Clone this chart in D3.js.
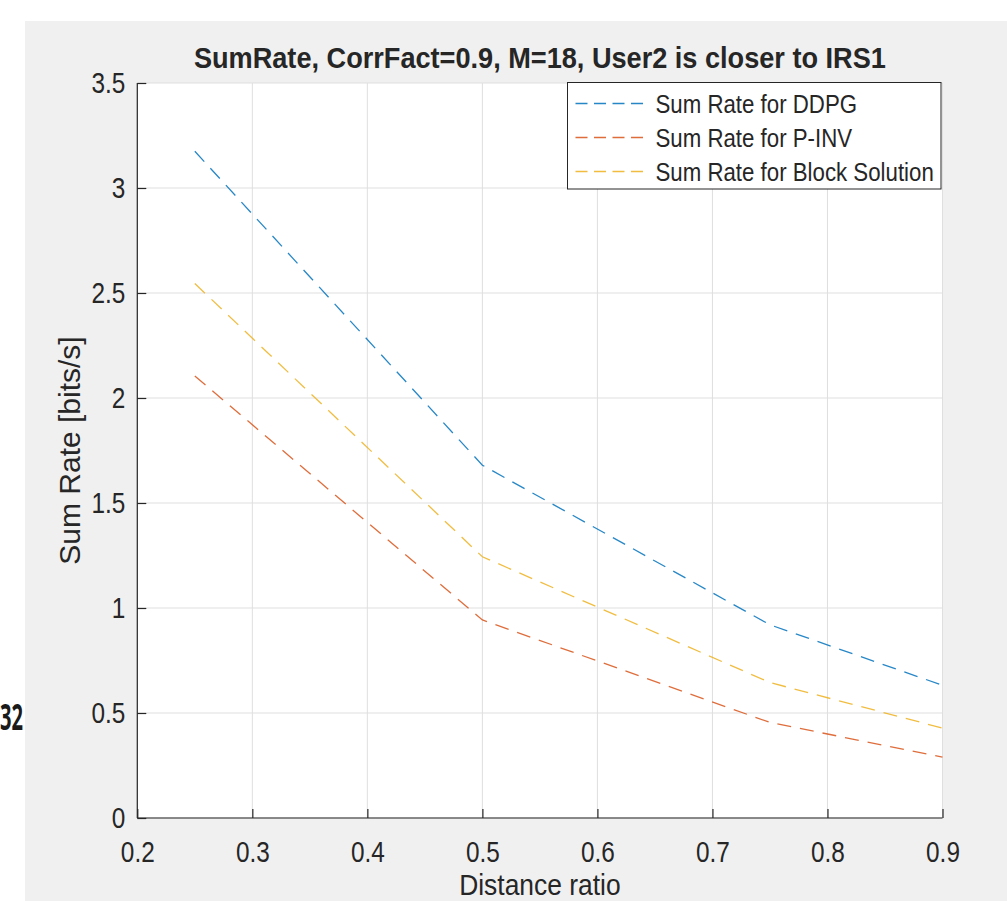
<!DOCTYPE html>
<html>
<head>
<meta charset="utf-8">
<script src="https://cdn.jsdelivr.net/npm/d3@7"></script>
<style>
  html, body { margin: 0; padding: 0; background: #ffffff; }
  svg { display: block; }
  text { font-family: "Liberation Sans", Arial, Helvetica, sans-serif; fill: #262626; }
</style>
</head>
<body>
<svg id="chart" width="1007" height="901"></svg>
<script>
// data
const distanceRatio = [0.25, 0.5, 0.75, 0.9];
const rateDDPG  = [3.175, 1.68, 0.92, 0.632];
const ratePINV  = [2.105, 0.943, 0.455, 0.29];
const rateBlock = [2.545, 1.244, 0.645, 0.428];
const seriesNames = ["Sum Rate for DDPG", "Sum Rate for P-INV", "Sum Rate for Block Solution"];
const seriesColors = ["#0072BD", "#D95319", "#EDB120"];
const xTickValues = [0.2, 0.3, 0.4, 0.5, 0.6, 0.7, 0.8, 0.9];
const yTickValues = [0, 0.5, 1, 1.5, 2, 2.5, 3, 3.5];
const titleText = "SumRate, CorrFact=0.9, M=18, User2 is closer to IRS1";

const svg = d3.select("#chart");

// squeeze text horizontally (the picture is narrower than the font)
function squeeze(sel, k) {
    sel.each(function () {
        let w = this.getComputedTextLength();
        d3.select(this).attr("textLength", w * k).attr("lengthAdjust", "spacingAndGlyphs");
    });
}

// figure background
svg.append("rect").attr("x", 25).attr("y", 21).attr("width", 982).attr("height", 880).attr("fill", "#f0f0f0");

// stray text at the left edge
svg.append("text").attr("x", 0).attr("y", 730)
    .style("font-family", "'Open Sans', sans-serif").style("font-weight", "bold")
    .style("font-size", "36px").style("fill", "#1a1a1a")
    .attr("textLength", 23).attr("lengthAdjust", "spacingAndGlyphs").text("32");

let x = d3.scaleLinear().domain([0.2, 0.9]).range([137.3, 942.5]);
let y = d3.scaleLinear().domain([0, 3.5]).range([818, 83]);

// plot area
svg.append("rect").attr("x", x(0.2)).attr("y", y(3.5))
    .attr("width", x(0.9) - x(0.2)).attr("height", y(0) - y(3.5)).attr("fill", "#ffffff");

// grid
let grid = svg.append("g");
grid.selectAll(".vgrid").data(xTickValues).enter().append("line")
    .attr("x1", d => x(d)).attr("x2", d => x(d)).attr("y1", y(0)).attr("y2", y(3.5))
    .attr("stroke", "#dfdfdf").attr("stroke-width", 1);
grid.selectAll(".hgrid").data(yTickValues).enter().append("line")
    .attr("x1", x(0.2)).attr("x2", x(0.9)).attr("y1", d => y(d)).attr("y2", d => y(d))
    .attr("stroke", "#dfdfdf").attr("stroke-width", 1);

// lines
let series = [rateDDPG, ratePINV, rateBlock];
let line = d3.line().x((d, i) => x(distanceRatio[i])).y(d => y(d));
svg.selectAll(".series").data(series).enter().append("path")
    .attr("d", d => line(d))
    .attr("fill", "none")
    .attr("stroke", (d, i) => seriesColors[i])
    .attr("stroke-width", 1.3)
    .attr("stroke-opacity", 0.85)
    .attr("stroke-dasharray", "14,9");

// axes, ticks pointing inward
let xAxis = svg.append("g").attr("transform", "translate(0," + y(0) + ")")
    .call(d3.axisBottom(x).tickValues(xTickValues).tickSize(-9).tickPadding(23).tickFormat(d => String(d)));
let yAxis = svg.append("g").attr("transform", "translate(" + x(0.2) + ",0)")
    .call(d3.axisLeft(y).tickValues(yTickValues).tickSize(-9).tickPadding(12).tickFormat(d => String(d)));

[xAxis, yAxis].forEach(a => {
    a.select(".domain").attr("stroke", "#262626").attr("stroke-width", 1.2);
    a.selectAll(".tick line").attr("stroke", "#262626").attr("stroke-width", 1.2);
    a.selectAll(".tick text").style("font-size", "29px").attr("fill", "#262626")
        .style("font-family", "'Liberation Sans', Arial, sans-serif");
});
xAxis.select(".domain").attr("d", "M" + x(0.2) + ",0H" + x(0.9));
yAxis.select(".domain").attr("d", "M0," + y(0) + "V" + y(3.5));
squeeze(xAxis.selectAll(".tick text"), 0.84);
squeeze(yAxis.selectAll(".tick text"), 0.84);

// title
let title = svg.append("text").attr("x", (x(0.2) + x(0.9)) / 2).attr("y", 68)
    .attr("text-anchor", "middle").style("font-weight", "bold").style("font-size", "29px")
    .attr("fill", "#000").text(titleText);
title.attr("textLength", 692).attr("lengthAdjust", "spacingAndGlyphs");

// axis labels
let xLabel = svg.append("text").attr("x", (x(0.2) + x(0.9)) / 2).attr("y", 895)
    .attr("text-anchor", "middle").style("font-size", "30px").text("Distance ratio");
squeeze(xLabel, 0.88);
svg.append("text")
    .attr("transform", "translate(80," + ((y(0) + y(3.5)) / 2) + ") rotate(-90)")
    .attr("text-anchor", "middle").style("font-size", "30px").text("Sum Rate [bits/s]");

// legend
let legend = svg.append("g").attr("transform", "translate(567.5,82.5)");
legend.append("rect").attr("width", 373.5).attr("height", 106.5)
    .attr("fill", "#ffffff").attr("stroke", "#262626").attr("stroke-width", 1);
let rows = legend.selectAll(".row").data(seriesNames).enter().append("g")
    .attr("transform", (d, i) => "translate(0," + (21 + i * 34) + ")");
rows.append("line").attr("x1", 8).attr("x2", 76).attr("y1", 0).attr("y2", 0)
    .attr("stroke", (d, i) => seriesColors[i]).attr("stroke-width", 1.3)
    .attr("stroke-opacity", 0.85)
    .attr("stroke-dasharray", "12,6.5");
let legendText = rows.append("text").attr("x", 88).attr("y", 9)
    .style("font-size", "25px").attr("fill", "#000").text(d => d);
squeeze(legendText, 0.89);
</script>
</body>
</html>
